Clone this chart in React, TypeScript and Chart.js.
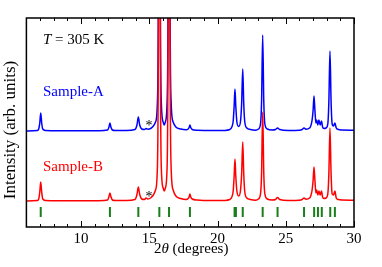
import { useEffect, useRef } from "react";
import { Chart, registerables } from "chart.js";

Chart.register(...registerables);

// 2θ positions (degrees) of the sampled profile points
const twoTheta = [
  6.0, 6.8,
  6.9, 6.98, 7.05, 7.12, 7.2, 7.4,
  8.5, 10.0, 11.3,
  11.95, 12.05, 12.12, 12.19, 12.3, 12.5,
  13.3,
  13.95, 14.1, 14.2, 14.3, 14.45,
  14.65, 14.77, 14.9,
  15.1, 15.3, 15.46, 15.6, 15.67, 15.74, 15.81, 15.88, 16.02,
  16.1,
  16.18, 16.31, 16.38, 16.45, 16.52, 16.6, 16.75, 16.95, 17.3, 17.7,
  17.85, 17.92, 17.98, 18.04, 18.15, 18.5,
  19.5, 20.5,
  20.9, 21.05, 21.15, 21.22, 21.28, 21.34, 21.42, 21.55, 21.68, 21.77, 21.85, 21.92, 22.0, 22.15, 22.4, 22.8,
  23.0, 23.15, 23.23, 23.31, 23.39, 23.47, 23.65, 24.0,
  24.25, 24.4, 24.55,
  25.2, 26.0,
  26.2, 26.34, 26.48,
  26.75, 26.92, 27.0, 27.07, 27.14, 27.21, 27.27, 27.35, 27.43, 27.52, 27.62, 27.7, 27.8, 27.95,
  28.08, 28.16, 28.24, 28.32, 28.4, 28.5, 28.6, 28.7, 28.85, 29.1, 30.0,
];

// Sample-A intensity (offset trace, arb. units)
const sampleA = [
  96, 96.5,
  98, 104, 114, 104, 98, 96.6,
  96.3, 96.2, 96.3,
  97, 100, 104, 100, 97, 96.4,
  96.5,
  97.5, 102, 110, 102, 98,
  97.5, 98.5, 97.8,
  98.5, 101, 105, 126, 246, 796, 246, 126, 105,
  102,
  105, 126, 246, 796, 246, 126, 105, 100, 98, 97.2,
  98, 99.5, 102, 99.5, 97.5, 96.8,
  96.4, 96.6,
  97.5, 100, 106, 121, 138, 121, 105, 100.5, 105, 124, 158, 124, 105, 99, 97.5, 96.8,
  98, 103, 126, 192, 126, 103, 98, 97,
  97.5, 99, 97.5,
  96.6, 96.8,
  97.5, 99, 97.8,
  99, 106, 116, 131, 116, 104, 107, 102, 107, 102, 106, 100, 98.5, 99,
  103, 126, 176, 126, 103, 101, 104, 99, 97.5, 97, 96.8,
];

// Sample-B intensity (arb. units)
const sampleB = [
  26, 26.5,
  28, 35, 45, 35, 28, 26.6,
  26.3, 26.2, 26.3,
  27, 30.5, 34, 30.5, 27, 26.4,
  26.5,
  27.5, 32.5, 40, 32.5, 28,
  27.5, 29, 28,
  29, 32, 37, 61, 196, 726, 196, 61, 39,
  36,
  39, 61, 196, 726, 196, 61, 37, 31, 28.5, 27.5,
  28.5, 30, 33, 30, 28, 27,
  26.4, 26.6,
  27.5, 30, 36, 51, 68, 51, 36, 31, 36, 54, 85, 54, 35, 29, 27.5, 26.8,
  28, 33, 54, 115, 54, 33, 28, 27,
  27.5, 29.5, 27.5,
  26.6, 26.8,
  27.5, 29, 27.8,
  29, 36, 46, 60, 46, 34, 37, 32, 36, 32, 36, 30, 28.5, 29,
  33, 54, 99, 54, 33, 32, 36, 29, 27.5, 27, 26.8,
];

// reference reflection positions (green tick marks)
const reflections = [
  7.05, 12.12, 14.2, 15.74, 16.45, 17.98, 21.25, 21.35, 21.85, 23.31,
  24.4, 26.34, 27.08, 27.36, 27.64, 28.26, 28.6,
];
const reflectionLevel = 15;

// impurity markers (*)
const starTheta = [14.98, 14.98];
const starLevel = [104, 33];

const FONT = "'Liberation Serif', 'Times New Roman', serif";

type Seg = { t: string; it?: boolean };

function drawSegs(ctx: CanvasRenderingContext2D, segs: Seg[], x: number, y: number, size: number, align: "left" | "center") {
  let total = 0;
  const widths = segs.map((s) => {
    ctx.font = `${s.it ? "italic " : ""}${size}px ${FONT}`;
    const w = ctx.measureText(s.t).width;
    total += w;
    return w;
  });
  let cx = align === "center" ? x - total / 2 : x;
  ctx.textAlign = "left";
  ctx.textBaseline = "alphabetic";
  segs.forEach((s, i) => {
    ctx.font = `${s.it ? "italic " : ""}${size}px ${FONT}`;
    ctx.fillText(s.t, cx, y);
    cx += widths[i];
  });
}

export default function App() {
  const ref = useRef<HTMLCanvasElement>(null);

  useEffect(() => {
    if (!ref.current) return;

    const overlay = {
      id: "overlay",
      afterDraw(chart: any) {
        const { ctx, chartArea: a, scales } = chart;
        const xs = scales.x;
        const ys = scales.y;
        ctx.save();
        // inward ticks on bottom and top
        ctx.strokeStyle = "#000";
        ctx.lineWidth = 1;
        xs.ticks.forEach((t: any) => {
          const v = t.value;
          const px = Math.round(xs.getPixelForValue(v)) + 0.5;
          const len = v % 5 === 0 ? 6 : 3;
          ctx.beginPath();
          ctx.moveTo(px, a.bottom);
          ctx.lineTo(px, a.bottom - len);
          ctx.moveTo(px, a.top);
          ctx.lineTo(px, a.top + len);
          ctx.stroke();
        });
        // frame
        ctx.lineWidth = 1.5;
        ctx.strokeRect(a.left, a.top, a.right - a.left, a.bottom - a.top);

        // annotations
        ctx.fillStyle = "#000";
        drawSegs(ctx, [{ t: "T", it: true }, { t: " = 305 K" }], 43, 44, 15, "left");
        ctx.fillStyle = "#0000ff";
        drawSegs(ctx, [{ t: "Sample-A" }], 43, 96, 15, "left");
        ctx.fillStyle = "#ff0000";
        drawSegs(ctx, [{ t: "Sample-B" }], 43, 171, 15, "left");

        ctx.fillStyle = "#000";
        starTheta.forEach((th, i) => {
          const px = xs.getPixelForValue(th);
          const py = ys.getPixelForValue(starLevel[i]);
          drawSegs(ctx, [{ t: "*" }], px, py + 7, 14, "center");
        });

        // axis titles
        drawSegs(ctx, [{ t: "2" }, { t: "θ", it: true }, { t: " (degrees)" }], (a.left + a.right) / 2 + 1, 253, 15, "center");
        ctx.save();
        ctx.translate(11, 130);
        ctx.rotate(-Math.PI / 2);
        ctx.font = `17px ${FONT}`;
        ctx.textAlign = "center";
        ctx.textBaseline = "middle";
        ctx.fillText("Intensity (arb. units)", 0, 0);
        ctx.restore();
        ctx.restore();
      },
    };

    const chart = new Chart(ref.current, {
      type: "line",
      data: {
        datasets: [
          {
            label: "Sample-B",
            data: twoTheta.map((x, i) => ({ x, y: sampleB[i] })),
            borderColor: "#ff0000",
            borderWidth: 1.5,
            pointRadius: 0,
            cubicInterpolationMode: "monotone",
            fill: false,
          },
          {
            label: "Sample-A",
            data: twoTheta.map((x, i) => ({ x, y: sampleA[i] })),
            borderColor: "#0000ff",
            borderWidth: 1.5,
            pointRadius: 0,
            cubicInterpolationMode: "monotone",
            fill: false,
          },
          {
            label: "reflections",
            data: reflections.map((x) => ({ x, y: reflectionLevel })),
            showLine: false,
            pointStyle: "line",
            rotation: 90,
            pointRadius: 5,
            borderColor: "#1a7f1a",
            borderWidth: 2,
          } as any,
        ],
      },
      options: {
        animation: false,
        responsive: true,
        maintainAspectRatio: false,
        layout: { padding: { left: 26.4, top: 18, right: 28, bottom: 0 } },
        plugins: { legend: { display: false }, tooltip: { enabled: false }, title: { display: false } },
        scales: {
          x: {
            type: "linear",
            min: 6,
            max: 30,
            grid: { display: false, drawTicks: false },
            border: { display: false },
            ticks: {
              stepSize: 1,
              autoSkip: false,
              maxRotation: 0,
              padding: 3,
              color: "#000",
              font: { family: FONT, size: 15 },
              callback: (v: any) => (Number(v) % 5 === 0 ? String(v) : ""),
            },
            afterFit: (s: any) => {
              s.height = 40;
            },
          },
          y: { display: false, min: 0, max: 209 },
        },
      },
      plugins: [overlay],
    });
    return () => chart.destroy();
  }, []);

  return (
    <div style={{ position: "absolute", left: 0, top: 0, width: 382, height: 267, background: "#fff" }}>
      <canvas ref={ref} />
    </div>
  );
}
